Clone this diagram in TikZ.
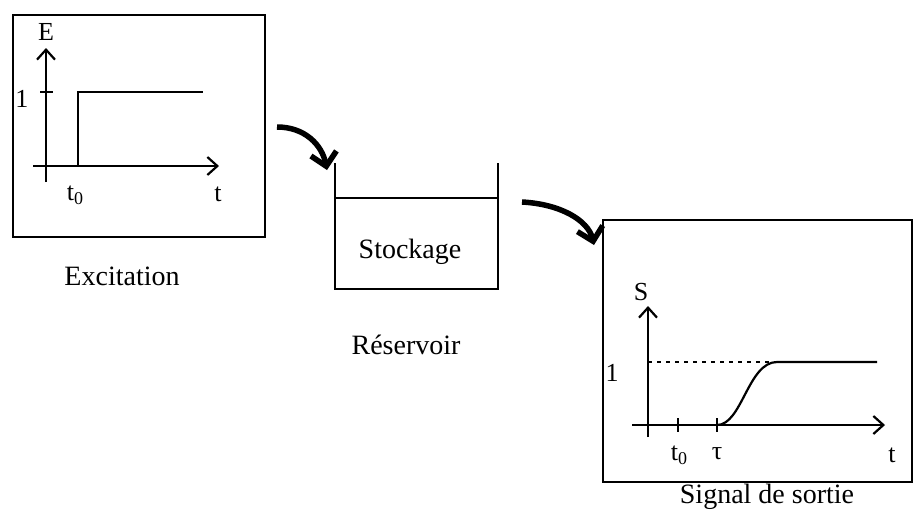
\documentclass[tikz,border=0pt]{standalone}
\usepackage{fontspec}
\setmainfont{Liberation Serif}
\usetikzlibrary{arrows.meta}

\newcommand{\tzero}{t\raisebox{-4pt}{\fontsize{18}{20}\selectfont 0}}

\tikzset{
  cadre/.style={line width=2.4pt},
  trait/.style={line width=2.2pt},
  axe/.style={trait,-{Straight Barb[length=10pt,width=18pt,line width=2.2pt]}},
  fleche/.style={line width=5.5pt,-{Straight Barb[length=13pt,width=26pt,line width=5.5pt]}},
  legende/.style={font=\fontsize{28}{32}\selectfont},
  etiq/.style={font=\fontsize{26}{30}\selectfont, inner sep=1pt}
}

\begin{document}
\begin{tikzpicture}[x=1pt,y=-1pt]
  \useasboundingbox (0,0) rectangle (917,515);
  % excitation
  \draw[cadre] (13,15) rectangle (265,237);
  \coordinate (e0) at (46,182);
  \coordinate (e1) at (46,48);
  \coordinate (h0) at (33,166);
  \coordinate (h1) at (219,166);
  \draw[axe] (e0) -- (e1);
  \draw[axe] (h0) -- (h1);
  \draw[trait] (40,92) -- (53,92);
  \draw[trait] (78,166) -- (78,92) -- (203,92);
  \node[etiq] (lE) at (46,32) {E};
  \node[etiq] (l1) at (22,99) {1};
  \node[etiq] (lt0) at (75,195) {\tzero};
  \node[etiq] (lt) at (218,194) {t};
  \node[legende] (exc) at (122,276) {Excitation};
  % reservoir
  \coordinate (g0) at (335,163);
  \coordinate (g1) at (335,289);
  \coordinate (d0) at (498,163);
  \coordinate (d1) at (498,289);
  \draw[cadre] (g0) -- (g1) -- (d1) -- (d0);
  \draw[cadre] (335,198) -- (498,198);
  \node[legende] (stock) at (410,252) {Stockage};
  \node[legende] (res) at (406,345) {Réservoir};
  % fleches
  \coordinate (a0) at (277,127);
  \coordinate (a1) at (327,170);
  \coordinate (b0) at (522,202);
  \coordinate (b1) at (594,245);
  \draw[fleche] (a0) .. controls (305,127) and (322,145) .. (a1);
  \draw[fleche] (b0) .. controls (560,204) and (588,220) .. (b1);
  % signal de sortie
  \draw[cadre] (603,220) rectangle (912,482);
  \coordinate (s0) at (648,437);
  \coordinate (s1) at (648,306);
  \coordinate (k0) at (632,425);
  \coordinate (k1) at (885,425);
  \draw[axe] (s0) -- (s1);
  \draw[axe] (k0) -- (k1);
  \draw[trait] (678,418) -- (678,432);
  \draw[trait] (717,418) -- (717,432);
  \draw[trait, dash pattern=on 4pt off 5pt] (648,362) -- (777,362);
  \draw[trait] (717,425) .. controls (742,425) and (748,362) .. (777,362) -- (877,362);
  \node[etiq] (lS) at (641,292) {S};
  \node[etiq] (l1b) at (612,373) {1};
  \node[etiq] (lt0b) at (679,455) {\tzero};
  \node[etiq] (ltau) at (717,454) {τ};
  \node[etiq] (ltb) at (892,455) {t};
  \node[legende] (sig) at (767,497) {Signal de sortie};
\end{tikzpicture}
\end{document}
